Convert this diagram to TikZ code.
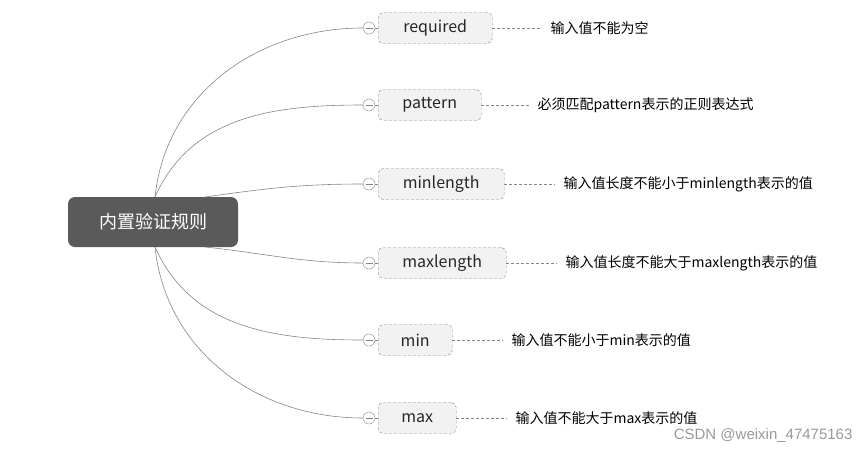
\documentclass[tikz,border=0pt]{standalone}
\usepackage{fontspec}
\newfontfamily\cjk{Noto Sans CJK SC}
\newfontfamily\markfont{Liberation Sans}
\usetikzlibrary{positioning}
\definecolor{rootgray}{HTML}{5A5A5A}
\definecolor{boxgray}{HTML}{F2F2F2}
\definecolor{linegray}{HTML}{858585}

\begin{document}
\begin{tikzpicture}[
    x=1pt, y=-1pt,
    root/.style={rectangle, fill=rootgray, rounded corners=7pt, text=white, font=\cjk\fontsize{18}{20}\selectfont, minimum width=170pt, minimum height=50pt},
    rulebox/.style={rectangle, draw=linegray, densely dashed, fill=boxgray, rounded corners=5pt, text=black!85, font=\cjk\fontsize{16}{18}\selectfont, minimum height=31pt, anchor=west},
    marker/.style={circle, draw=linegray, fill=white, inner sep=0pt, minimum size=12pt, path picture={\draw[linegray] ([xshift=2.5pt]path picture bounding box.west) -- ([xshift=-2.5pt]path picture bounding box.east);}},
    note/.style={inner xsep=8pt, inner ysep=0pt, text=black, font=\cjk\fontsize{14}{16}\selectfont},
    branch/.style={draw=linegray, line width=0.6pt},
    link/.style={draw=linegray, densely dashed, line width=0.5pt}
]
\useasboundingbox (0,0) rectangle (859,448);

% Root
\node[root] (root) at (153,222) {内置验证规则};
\coordinate (rootup) at (155,197);
\coordinate (rootdown) at (155,247);
\coordinate (rootupr) at (205,197);
\coordinate (rootdownr) at (205,247);

% Rules
\node[rulebox, minimum width=114pt] (required) at (378,28) {required};
\node[rulebox, minimum width=103pt] (pattern) at (378,105) {pattern};
\node[rulebox, minimum width=126pt] (minlength) at (378,184) {minlength};
\node[rulebox, minimum width=128pt] (maxlength) at (378,263) {maxlength};
\node[rulebox, minimum width=74pt] (min) at (378,340) {min};
\node[rulebox, minimum width=78pt] (max) at (378,418) {max};

% Collapse markers
\node[marker] (m1) at (369,28) {};
\node[marker] (m2) at (369,105) {};
\node[marker] (m3) at (369,184) {};
\node[marker] (m4) at (369,263) {};
\node[marker] (m5) at (369,340) {};
\node[marker] (m6) at (369,418) {};

% Notes
\node[note, anchor=west, right=50pt of required] (n1) {输入值不能为空};
\node[note, anchor=west, right=48pt of pattern] (n2) {必须匹配pattern表示的正则表达式};
\node[note, anchor=west, right=51pt of minlength] (n3) {输入值长度不能小于minlength表示的值};
\node[note, anchor=west, right=51pt of maxlength] (n4) {输入值长度不能大于maxlength表示的值};
\node[note, anchor=west, right=51pt of min] (n5) {输入值不能小于min表示的值};
\node[note, anchor=west, right=51pt of max] (n6) {输入值不能大于max表示的值};

% Branches
\draw[branch] (rootup) to[out=84, in=180] (m1.west);
\draw[branch] (rootup) to[out=66, in=180] (m2.west);
\draw[branch] (rootupr) to[out=8, in=180] (m3.west);
\draw[branch] (rootdownr) to[out=-6, in=180] (m4.west);
\draw[branch] (rootdown) to[out=-66, in=180] (m5.west);
\draw[branch] (rootdown) to[out=-84, in=180] (m6.west);
\draw[branch] (m1) -- (required);
\draw[branch] (m2) -- (pattern);
\draw[branch] (m3) -- (minlength);
\draw[branch] (m4) -- (maxlength);
\draw[branch] (m5) -- (min);
\draw[branch] (m6) -- (max);

% Links to notes
\draw[link] (required) -- (n1);
\draw[link] (pattern) -- (n2);
\draw[link] (minlength) -- (n3);
\draw[link] (maxlength) -- (n4);
\draw[link] (min) -- (n5);
\draw[link] (max) -- (n6);

% Watermark
\node[anchor=east, text=black!40, font=\markfont\fontsize{15}{17}\selectfont] (mark) at (856,436) {CSDN @weixin\_47475163};

\end{tikzpicture}
\end{document}
